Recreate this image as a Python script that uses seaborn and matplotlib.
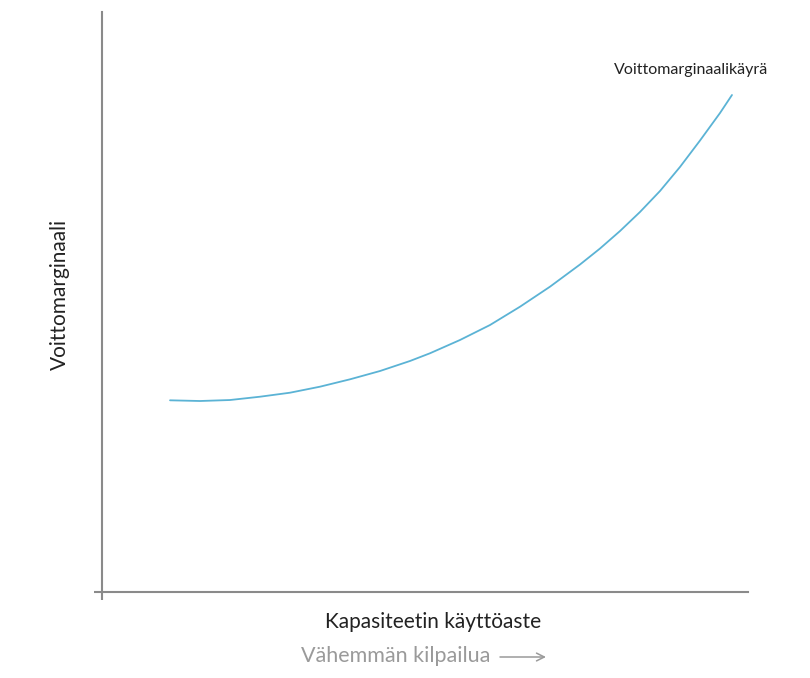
import numpy as np
import pandas as pd
import matplotlib
matplotlib.use("Agg")
import matplotlib.pyplot as plt
import seaborn as sns

# käyrän pisteet (luettu kuvasta, akselit 0..100)
kapasiteetti = [10.53, 15.17, 19.81, 24.46, 29.10, 33.75, 38.39, 43.03, 47.68, 50.77,
                55.42, 60.06, 64.71, 69.35, 74.00, 77.09, 80.19, 83.28, 86.38, 89.47,
                92.57, 95.67, 97.52]
marginaali = [33.05, 32.93, 33.10, 33.67, 34.36, 35.40, 36.67, 38.10, 39.83, 41.16,
              43.45, 46.03, 49.19, 52.64, 56.47, 59.22, 62.24, 65.52, 69.14, 73.28,
              77.84, 82.59, 85.69]

sns.set_style("white")
plt.rcParams['font.family'] = ['Lato', 'DejaVu Sans']

df = pd.DataFrame({'x': kapasiteetti, 'y': marginaali})

fig = plt.figure(figsize=(8.1, 6.78), dpi=100)
ax = fig.add_axes([102 / 810, 86 / 678, 646 / 810, 580 / 678])

sns.lineplot(data=df, x='x', y='y', ax=ax, color='#5bb3d5', linewidth=1.3)

ax.set_xlim(0, 100)
ax.set_ylim(0, 100)
for s in ['top', 'right']:
    ax.spines[s].set_visible(False)
for s in ['left', 'bottom']:
    ax.spines[s].set_color('#8a8a8a')
    ax.spines[s].set_linewidth(1.5)

ax.set_xticks([0])
ax.set_yticks([0])
ax.set_xticklabels([])
ax.set_yticklabels([])
ax.tick_params(axis='both', bottom=True, left=True, length=6, width=1.5,
               color='#8a8a8a', direction='out')
ax.set_xlabel('')
ax.set_ylabel('')

fig.text(768 / 810, 1 - 70 / 678, 'Voittomarginaalikäyrä', fontsize=11.5,
         color='#222222', ha='right', va='center')

fig.text(433 / 810, 1 - 622 / 678, 'Kapasiteetin käyttöaste', fontsize=15,
         color='#222222', ha='center', va='center')
fig.text(301 / 810, 1 - 656 / 678, 'Vähemmän kilpailua', fontsize=15.5,
         color='#9a9a9a', ha='left', va='center')
fig.text(60 / 810, 1 - 294 / 678, 'Voittomarginaali', fontsize=15,
         color='#222222', ha='center', va='center', rotation=90)

# nuoli tekstin perässä
ax.annotate('', xy=(546, 678 - 657), xytext=(500, 678 - 657),
            xycoords='figure pixels', textcoords='figure pixels',
            arrowprops=dict(arrowstyle='->', color='#9a9a9a', lw=1.1,
                            mutation_scale=14, shrinkA=0, shrinkB=0),
            annotation_clip=False)

fig.savefig('out.png', dpi=100)
